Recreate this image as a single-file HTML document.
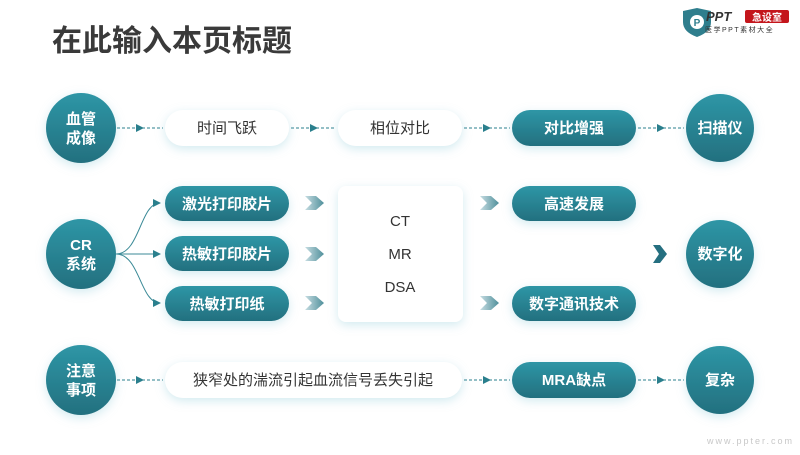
<!DOCTYPE html>
<html><head><meta charset="utf-8"><style>
body{margin:0;background:#fff}
svg text{font-family:"Liberation Sans","Noto Sans CJK SC",sans-serif}
</style></head><body>
<svg width="800" height="450" viewBox="0 0 800 450" xmlns="http://www.w3.org/2000/svg">
<defs>
<linearGradient id="g" x1="0" y1="0" x2="0" y2="1"><stop offset="0" stop-color="#2e96a6"/><stop offset="1" stop-color="#23707f"/></linearGradient>
<linearGradient id="ch" x1="0" y1="0" x2="1" y2="0"><stop offset="0" stop-color="#c7dde2"/><stop offset="1" stop-color="#4f8f9b"/></linearGradient>
<filter id="s" x="-30%" y="-50%" width="160%" height="200%"><feDropShadow dx="0" dy="3" stdDeviation="5" flood-color="#7fc3d3" flood-opacity="0.35"/></filter>
<marker id="a" markerWidth="8" markerHeight="8" refX="7" refY="4" orient="auto" markerUnits="userSpaceOnUse"><path d="M0,0 L8,4 L0,8z" fill="#2a7f8d"/></marker>
</defs>
<text x="52" y="51" font-size="30" font-weight="bold" fill="#3a3a3a">在此输入本页标题</text>
<!-- logo -->
<path d="M683,11 L697,8 L711,11 L711,22 Q711,32 697,37 Q683,32 683,22z" fill="#2f7e8d"/>
<circle cx="697" cy="22" r="7" fill="#fff"/><text x="697" y="26" font-size="10" font-weight="bold" fill="#2f7e8d" text-anchor="middle">P</text>
<text x="706" y="21" font-size="13" font-weight="bold" font-style="italic" fill="#333">PPT</text>
<rect x="745" y="10" width="44" height="13" rx="2" fill="#c4161c"/><text x="767" y="21" font-size="10" font-weight="bold" fill="#fff" text-anchor="middle">急设室</text>
<text x="705" y="32" font-size="7" fill="#333" letter-spacing="1.5">医学PPT素材大全</text>

<!-- dashed connectors -->
<g stroke="#2a7f8d" stroke-width="1" stroke-dasharray="3,2" fill="none">
<line x1="117" y1="128" x2="163" y2="128"/><line x1="291" y1="128" x2="336" y2="128"/>
<line x1="464" y1="128" x2="510" y2="128"/><line x1="638" y1="128" x2="684" y2="128"/>
<line x1="117" y1="380" x2="163" y2="380"/><line x1="464" y1="380" x2="510" y2="380"/>
<line x1="638" y1="380" x2="684" y2="380"/>
</g>
<g fill="#2a7f8d">
<path d="M136,124 L144,128 L136,132z"/><path d="M310,124 L318,128 L310,132z"/><path d="M483,124 L491,128 L483,132z"/><path d="M657,124 L665,128 L657,132z"/>
<path d="M136,376 L144,380 L136,384z"/><path d="M483,376 L491,380 L483,384z"/><path d="M657,376 L665,380 L657,384z"/>
</g>
<!-- curves -->
<g stroke="#3b8a97" stroke-width="1" fill="none">
<path d="M116,254 C140,254 140,203 160,203" marker-end="url(#a)"/>
<path d="M116,254 L160,254" marker-end="url(#a)"/>
<path d="M116,254 C140,254 140,303 160,303" marker-end="url(#a)"/>
</g>
<!-- chevrons -->
<g fill="url(#ch)">
<path d="M305,196 L316,196 L324,203 L316,210 L305,210 L312,203z"/>
<path d="M305,247 L316,247 L324,254 L316,261 L305,261 L312,254z"/>
<path d="M305,296 L316,296 L324,303 L316,310 L305,310 L312,303z"/>
<path d="M480,196 L491,196 L499,203 L491,210 L480,210 L487,203z"/>
<path d="M480,296 L491,296 L499,303 L491,310 L480,310 L487,303z"/>
</g>
<path d="M653,245 L660,245 L667,254 L660,263 L653,263 L659,254z" fill="#256f80"/>

<!-- white boxes -->
<g fill="#fff" filter="url(#s)">
<rect x="165" y="110" width="124" height="36" rx="18"/>
<rect x="338" y="110" width="124" height="36" rx="18"/>
<rect x="338" y="186" width="125" height="136" rx="8"/>
<rect x="165" y="362" width="297" height="36" rx="18"/>
</g>
<!-- teal pills -->
<g fill="url(#g)" filter="url(#s)">
<rect x="512" y="110" width="124" height="36" rx="18"/>
<rect x="165" y="186" width="124" height="35" rx="17.5"/>
<rect x="165" y="236" width="124" height="35" rx="17.5"/>
<rect x="165" y="286" width="124" height="35" rx="17.5"/>
<rect x="512" y="186" width="124" height="35" rx="17.5"/>
<rect x="512" y="286" width="124" height="35" rx="17.5"/>
<rect x="512" y="362" width="124" height="36" rx="18"/>
<circle cx="81" cy="128" r="35"/><circle cx="81" cy="254" r="35"/><circle cx="81" cy="380" r="35"/>
<circle cx="720" cy="128" r="34"/><circle cx="720" cy="254" r="34"/><circle cx="720" cy="380" r="34"/>
</g>

<g font-size="15" fill="#333" text-anchor="middle">
<text x="227" y="133">时间飞跃</text>
<text x="400" y="133">相位对比</text>
<text x="400" y="226">CT</text>
<text x="400" y="259">MR</text>
<text x="400" y="292">DSA</text>
<text x="313" y="385">狭窄处的湍流引起血流信号丢失引起</text>
</g>
<g font-size="15" fill="#fff" font-weight="bold" text-anchor="middle">
<text x="574" y="133">对比增强</text>
<text x="227" y="209">激光打印胶片</text>
<text x="227" y="259">热敏打印胶片</text>
<text x="227" y="309">热敏打印纸</text>
<text x="574" y="209">高速发展</text>
<text x="574" y="309">数字通讯技术</text>
<text x="574" y="385">MRA缺点</text>
<text x="81" y="124">血管</text><text x="81" y="143">成像</text>
<text x="81" y="250">CR</text><text x="81" y="269">系统</text>
<text x="81" y="376">注意</text><text x="81" y="395">事项</text>
<text x="720" y="133">扫描仪</text>
<text x="720" y="259">数字化</text>
<text x="720" y="385">复杂</text>
</g>
<text x="707" y="444" font-size="9" fill="#c8c8c8" letter-spacing="2">www.ppter.com</text>
</svg>
</body></html>
